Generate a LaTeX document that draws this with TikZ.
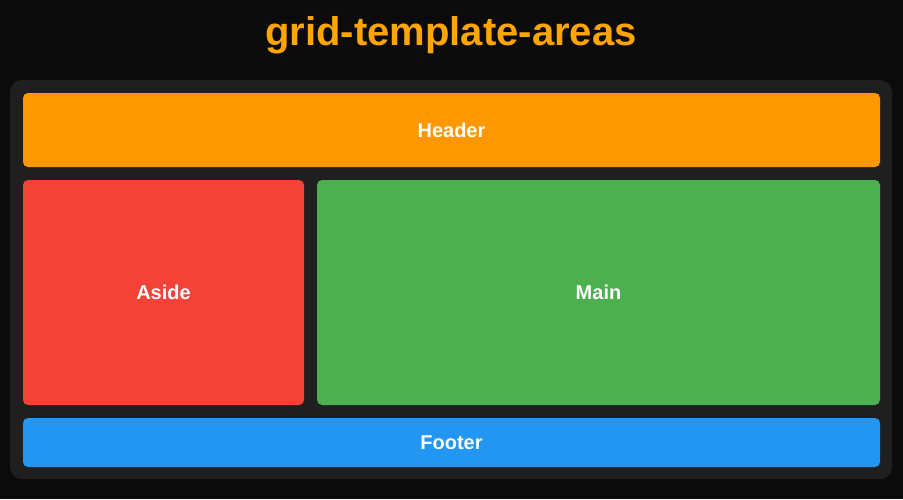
\documentclass[tikz,border=0pt]{standalone}
\usepackage{fontspec}
\setmainfont{Liberation Sans}
\definecolor{bgc}{HTML}{0B0B0B}
\definecolor{boxc}{HTML}{1F1F1F}
\definecolor{hdr}{HTML}{FF9800}
\definecolor{asd}{HTML}{F44336}
\definecolor{mn}{HTML}{4CAF50}
\definecolor{ftr}{HTML}{2196F3}
\definecolor{ttl}{HTML}{FFA500}
\begin{document}
\begin{tikzpicture}[x=1pt,y=-1pt,
  area/.style={fill=#1,rounded corners=5pt},
  lbl/.style={text=white,font=\fontsize{20}{24}\selectfont\bfseries,inner sep=0pt}]
\fill[bgc] (0,0) rectangle (903,499);
\useasboundingbox (0,0) rectangle (903,499);
\node[text=ttl,font=\fontsize{40}{46}\selectfont\bfseries,inner sep=0pt,anchor=base] (title) at (451,45) {grid-template-areas};
\fill[boxc,rounded corners=12pt] (10,80) rectangle (892,479);
\fill[area=hdr] (23,93) rectangle (880,167);
\fill[area=asd] (23,180) rectangle (304,405);
\fill[area=mn] (317,180) rectangle (880,405);
\fill[area=ftr] (23,418) rectangle (880,467);
\node[lbl] (header) at (451.5,130) {Header};
\node[lbl] (aside) at (163.5,292.5) {Aside};
\node[lbl] (main) at (598.5,292.5) {Main};
\node[lbl] (footer) at (451.5,442.5) {Footer};
\end{tikzpicture}
\end{document}
